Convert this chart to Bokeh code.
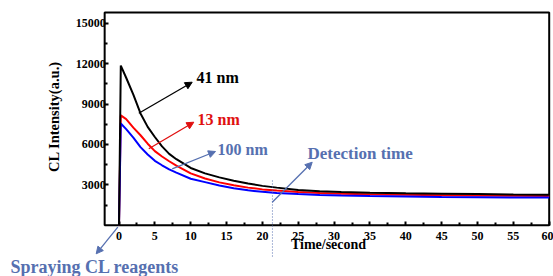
import math
from bokeh.plotting import figure
from bokeh.models import Range1d, LinearAxis, FixedTicker, Label, Arrow, NormalHead
from bokeh.embed import file_html
from bokeh.resources import INLINE

# ---------------- data ----------------
time_s = [0, 0.25, 1, 2, 3, 4, 5, 6, 7, 8, 10, 12, 14, 16, 18, 20, 22, 25, 28, 31, 35, 40, 45, 50, 55, 60]
cl_41nm = [0, 11850, 10950, 9700, 8300, 7300, 6550, 5850, 5300, 4900, 4250, 3850, 3550, 3300, 3100, 2920,
           2790, 2620, 2520, 2460, 2410, 2370, 2340, 2310, 2280, 2260]
cl_13nm = [0, 8150, 7880, 7250, 6680, 6050, 5500, 5100, 4750, 4420, 3850, 3470, 3180, 2960, 2790, 2660,
           2570, 2460, 2390, 2340, 2300, 2260, 2230, 2200, 2180, 2160]
cl_100nm = [0, 7550, 7130, 6500, 5800, 5250, 4780, 4450, 4150, 3900, 3450, 3200, 2950, 2750, 2590, 2480,
            2400, 2310, 2240, 2200, 2160, 2130, 2100, 2080, 2060, 2050]
x_ticks = [0, 5, 10, 15, 20, 25, 30, 35, 40, 45, 50, 55, 60]
x_minor = [2.5, 7.5, 12.5, 17.5, 22.5, 27.5, 32.5, 37.5, 42.5, 47.5, 52.5, 57.5]
y_ticks = [3000, 6000, 9000, 12000, 15000]
y_minor = [1500, 4500, 7500, 10500, 13500]
detection_time = 21.4

# ---------------- layout helpers (picture pixels -> data) ----------------
X0, PXT = 118.5, 7.17          # px of t=0, px per second
Y0, PXV = 224.7, 40.4 / 3000   # px of intensity 0, px per unit


def tx(X):
    return (X - X0) / PXT


def vy(Y):
    return (Y0 - Y) / PXV


W, H = 553, 276
p = figure(width=W, height=H, min_border=0, x_axis_location=None, y_axis_location=None,
           toolbar_location=None, output_backend="svg",
           x_range=Range1d(tx(0), tx(W)), y_range=Range1d(vy(H), vy(0)))
p.outline_line_color = None
p.grid.visible = False
p.background_fill_color = "white"
p.border_fill_color = "white"

FONT = "Liberation Serif"
BLUEGRAY = "#5670b0"
XMIN, XMAX = -2, 60
YTOP = vy(12)

# frame
p.quad(left=[XMIN], right=[XMAX], bottom=[0], top=[YTOP], fill_color=None,
       line_color="black", line_width=2)

# curves
p.line(time_s, cl_13nm, line_color="#ff0000", line_width=2)
p.line(time_s, cl_100nm, line_color="#0000ff", line_width=2)
p.line(time_s, cl_41nm, line_color="black", line_width=2)

# axes
common = dict(axis_line_color=None, major_tick_in=4, major_tick_out=0, minor_tick_in=3,
              minor_tick_out=0, major_tick_line_width=2, minor_tick_line_width=2,
              major_label_text_font=FONT, major_label_text_font_style="bold",
              major_label_text_font_size="12px", major_label_text_color="black")
xaxis = LinearAxis(fixed_location=0, bounds=(XMIN, XMAX),
                   ticker=FixedTicker(ticks=x_ticks, minor_ticks=x_minor),
                   major_label_standoff=7, **common)
p.add_layout(xaxis, "below")
yaxis = LinearAxis(fixed_location=XMIN, bounds=(0, YTOP),
                   ticker=FixedTicker(ticks=y_ticks, minor_ticks=y_minor),
                   major_label_standoff=-1, **common)
p.add_layout(yaxis, "left")

# axis titles
p.add_layout(Label(x=tx(53), y=vy(116), text="CL Intensity(a.u.)", angle=math.pi / 2,
                   text_align="center", text_baseline="middle", text_font=FONT,
                   text_font_style="bold", text_font_size="14.5px", text_color="black"))
p.add_layout(Label(x=tx(328), y=vy(244), text="Time/second", text_align="center",
                   text_baseline="middle", text_font=FONT, text_font_style="bold",
                   text_font_size="14px", text_color="black"))

# detection time dotted line
p.line([detection_time, detection_time], [vy(180), vy(258)], line_color=BLUEGRAY,
       line_width=1, line_dash="1 2")


def arrow(x1, y1, x2, y2, color):
    p.add_layout(Arrow(end=NormalHead(size=7, fill_color=color, line_color=color),
                       x_start=tx(x1), y_start=vy(y1), x_end=tx(x2), y_end=vy(y2),
                       line_color=color, line_width=1.3))


def label(X, Y, text, color, size):
    p.add_layout(Label(x=tx(X), y=vy(Y), text=text, text_align="left", text_baseline="middle",
                       text_font=FONT, text_font_style="bold", text_font_size=size,
                       text_color=color))


arrow(138.3, 112.7, 191.7, 81.7, "black")
label(196, 77, "41 nm", "black", "16px")
arrow(148.3, 148.3, 193.3, 121.7, "#e01010")
label(197, 118.5, "13 nm", "#e01010", "16px")
arrow(171.7, 168.3, 215, 151, BLUEGRAY)
label(217, 149, "100 nm", BLUEGRAY, "16px")
arrow(271.7, 201.7, 311.7, 161.7, BLUEGRAY)
label(307, 153, "Detection time", BLUEGRAY, "17px")
arrow(117.3, 226.7, 95.7, 253.3, BLUEGRAY)
label(10, 266, "Spraying CL reagents", BLUEGRAY, "18px")

open("out.html", "w").write(file_html(p, INLINE))
